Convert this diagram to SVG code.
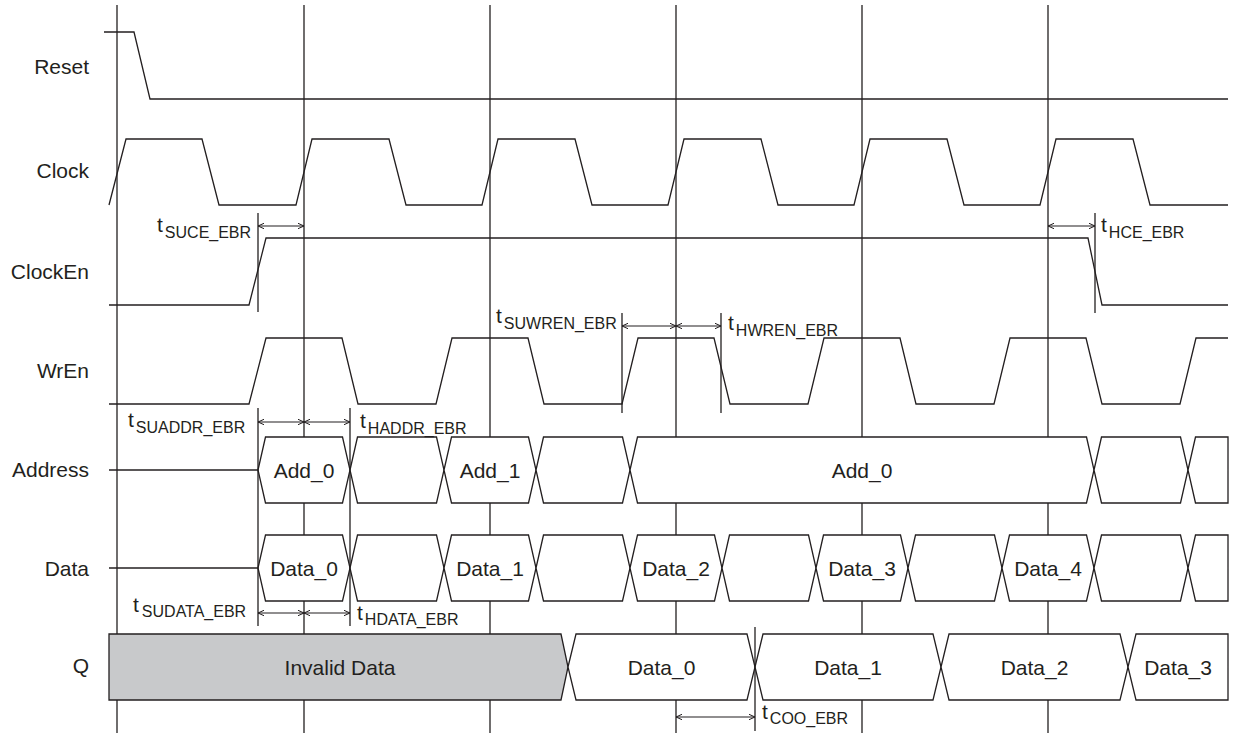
<svg xmlns="http://www.w3.org/2000/svg" width="1233" height="736" viewBox="0 0 1233 736">
<style>
.ln{fill:none;stroke:#231f20;stroke-width:1.3;stroke-linejoin:miter}
.bx{fill:#fff;stroke:#231f20;stroke-width:1.3}
.gb{fill:#c8c9cb;stroke:#231f20;stroke-width:1.3}
.lbl{font-family:"Liberation Sans",Arial,sans-serif;font-size:21px;fill:#231f20;text-anchor:end}
.bt{font-family:"Liberation Sans",Arial,sans-serif;font-size:21px;fill:#231f20;text-anchor:middle}
.tm{font-family:"Liberation Sans",Arial,sans-serif;font-size:21px;fill:#231f20}
.sub{font-size:16px}
.ar{fill:none;stroke:#231f20;stroke-width:1.1;marker-start:url(#ah);marker-end:url(#ah)}
</style>
<defs>
<marker id="ah" viewBox="0 0 6 6" refX="6" refY="3" markerWidth="6" markerHeight="6" markerUnits="userSpaceOnUse" orient="auto-start-reverse">
<path d="M0,0.3 L6,3 L0,5.7" fill="none" stroke="#231f20" stroke-width="1"/>
</marker>
</defs>
<rect width="1233" height="736" fill="#fff"/>
<g id="grid" class="ln">
<line x1="117" y1="5" x2="117" y2="733"/>
<line x1="304" y1="5" x2="304" y2="733"/>
<line x1="490" y1="5" x2="490" y2="733"/>
<line x1="676" y1="5" x2="676" y2="733"/>
<line x1="862" y1="5" x2="862" y2="733"/>
<line x1="1048" y1="5" x2="1048" y2="733"/>
</g>
<g id="reset">
<path class="ln" d="M104,32 L134,32 L150,99 L1228,99"/>
<text class="lbl" x="89" y="74">Reset</text>
</g>
<g id="clock">
<path class="ln" d="M109,205 L126,139 L202,139 L219,205 L296,205 L312,139 L389,139 L406,205 L482,205 L498,139 L575,139 L592,205 L668,205 L684,139 L761,139 L778,205 L854,205 L870,139 L947,139 L964,205 L1040,205 L1056,139 L1133,139 L1150,205 L1228,205"/>
<text class="lbl" x="89" y="178">Clock</text>
</g>
<g id="clocken">
<path class="ln" d="M109,305 L249,305 L266,238 L1088,238 L1102,305 L1228,305"/>
<text class="lbl" x="89" y="279">ClockEn</text>
</g>
<g id="wren">
<path class="ln" d="M109,404 L249,404 L266,338 L342,338 L358,404 L436,404 L452,338 L528,338 L544,404 L622,404 L638,338 L714,338 L730,404 L808,404 L824,338 L900,338 L916,404 L994,404 L1010,338 L1086,338 L1102,404 L1180,404 L1196,338 L1228,338"/>
<text class="lbl" x="89" y="378">WrEn</text>
</g>
<g id="address">
<line class="ln" x1="109" y1="470" x2="258" y2="470"/>
<polygon class="bx" points="258,470 265.5,437 342.5,437 350,470 342.5,503 265.5,503"/>
<polygon class="bx" points="350,470 357.5,437 436.5,437 444,470 436.5,503 357.5,503"/>
<polygon class="bx" points="444,470 451.5,437 528.5,437 536,470 528.5,503 451.5,503"/>
<polygon class="bx" points="536,470 543.5,437 622.5,437 630,470 622.5,503 543.5,503"/>
<polygon class="bx" points="630,470 637.5,437 1086.5,437 1094,470 1086.5,503 637.5,503"/>
<polygon class="bx" points="1094,470 1101.5,437 1180.5,437 1188,470 1180.5,503 1101.5,503"/>
<polygon class="bx" points="1188,470 1195.5,437 1228,437 1228,503 1195.5,503"/>
<text class="bt" x="304" y="477.5">Add_0</text>
<text class="bt" x="490" y="477.5">Add_1</text>
<text class="bt" x="862" y="477.5">Add_0</text>
<text class="lbl" x="89" y="477">Address</text>
</g>
<g id="data">
<line class="ln" x1="109" y1="568" x2="258" y2="568"/>
<polygon class="bx" points="258,568 265.5,535 342.5,535 350,568 342.5,601 265.5,601"/>
<polygon class="bx" points="350,568 357.5,535 436.5,535 444,568 436.5,601 357.5,601"/>
<polygon class="bx" points="444,568 451.5,535 528.5,535 536,568 528.5,601 451.5,601"/>
<polygon class="bx" points="536,568 543.5,535 622.5,535 630,568 622.5,601 543.5,601"/>
<polygon class="bx" points="630,568 637.5,535 714.5,535 722,568 714.5,601 637.5,601"/>
<polygon class="bx" points="722,568 729.5,535 808.5,535 816,568 808.5,601 729.5,601"/>
<polygon class="bx" points="816,568 823.5,535 900.5,535 908,568 900.5,601 823.5,601"/>
<polygon class="bx" points="908,568 915.5,535 994.5,535 1002,568 994.5,601 915.5,601"/>
<polygon class="bx" points="1002,568 1009.5,535 1086.5,535 1094,568 1086.5,601 1009.5,601"/>
<polygon class="bx" points="1094,568 1101.5,535 1180.5,535 1188,568 1180.5,601 1101.5,601"/>
<polygon class="bx" points="1188,568 1195.5,535 1228,535 1228,601 1195.5,601"/>
<text class="bt" x="304" y="575.5">Data_0</text>
<text class="bt" x="490" y="575.5">Data_1</text>
<text class="bt" x="676" y="575.5">Data_2</text>
<text class="bt" x="862" y="575.5">Data_3</text>
<text class="bt" x="1048" y="575.5">Data_4</text>
<text class="lbl" x="89" y="576">Data</text>
</g>
<g id="q">
<polygon class="gb" points="109,634 561,634 568,667 561,700 109,700"/>
<polygon class="bx" points="568,667 576,634 747,634 755,667 747,700 576,700"/>
<polygon class="bx" points="755,667 763,634 933,634 941,667 933,700 763,700"/>
<polygon class="bx" points="941,667 949,634 1120,634 1128,667 1120,700 949,700"/>
<polygon class="bx" points="1128,667 1136,634 1228,634 1228,700 1136,700"/>
<text class="bt" x="340" y="674.5">Invalid Data</text>
<text class="bt" x="661.5" y="674.5">Data_0</text>
<text class="bt" x="848" y="674.5">Data_1</text>
<text class="bt" x="1034.5" y="674.5">Data_2</text>
<text class="bt" x="1178" y="674.5">Data_3</text>
<text class="lbl" x="89" y="673">Q</text>
</g>
<g id="connectors">
<g class="ln">
<line x1="258" y1="213" x2="258" y2="312"/>
<line x1="1095" y1="213" x2="1095" y2="313"/>
<line x1="622" y1="313" x2="622" y2="413"/>
<line x1="721" y1="313" x2="721" y2="413"/>
<line x1="258" y1="408" x2="258" y2="626"/>
<line x1="350" y1="408" x2="350" y2="626"/>
<line x1="755" y1="627" x2="755" y2="731"/>
</g>
<line class="ar" x1="258" y1="226" x2="304" y2="226"/>
<line class="ar" x1="1048" y1="226" x2="1095" y2="226"/>
<line class="ar" x1="622" y1="326" x2="676" y2="326"/>
<line class="ar" x1="676" y1="326" x2="721" y2="326"/>
<line class="ar" x1="258" y1="422" x2="304" y2="422"/>
<line class="ar" x1="304" y1="422" x2="350" y2="422"/>
<line class="ar" x1="258" y1="613" x2="304" y2="613"/>
<line class="ar" x1="304" y1="613" x2="350" y2="613"/>
<line class="ar" x1="676" y1="717" x2="755" y2="717"/>
</g>
<g id="timing-labels">
<text class="tm" x="157" y="232">t<tspan class="sub" dx="2" dy="6">SUCE_EBR</tspan></text>
<text class="tm" x="1101" y="232">t<tspan class="sub" dx="2" dy="6">HCE_EBR</tspan></text>
<text class="tm" x="496" y="323">t<tspan class="sub" dx="2" dy="6">SUWREN_EBR</tspan></text>
<text class="tm" x="728" y="330">t<tspan class="sub" dx="2" dy="6">HWREN_EBR</tspan></text>
<text class="tm" x="128" y="427">t<tspan class="sub" dx="2" dy="6">SUADDR_EBR</tspan></text>
<text class="tm" x="360" y="428">t<tspan class="sub" dx="2" dy="6">HADDR_EBR</tspan></text>
<text class="tm" x="133" y="612">t<tspan class="sub" dx="3" dy="5">SUDATA_EBR</tspan></text>
<text class="tm" x="357" y="620">t<tspan class="sub" dx="2" dy="5">HDATA_EBR</tspan></text>
<text class="tm" x="762" y="719">t<tspan class="sub" dx="2" dy="5">COO_EBR</tspan></text>
</g>
</svg>
